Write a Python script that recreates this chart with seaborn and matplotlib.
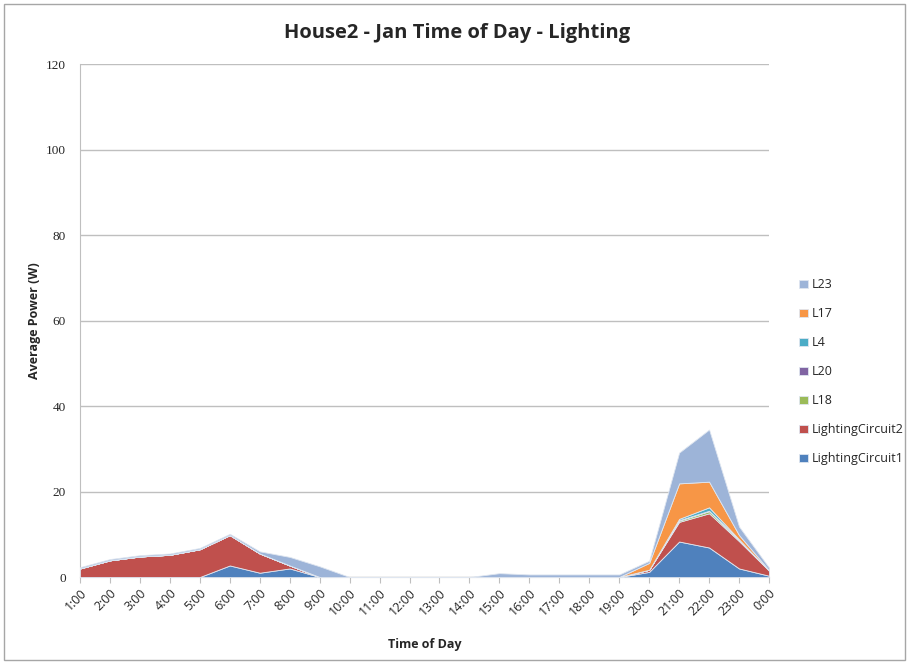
import numpy as np
import pandas as pd
import matplotlib
matplotlib.use("Agg")
import matplotlib.pyplot as plt
import seaborn as sns

hours = ["1:00","2:00","3:00","4:00","5:00","6:00","7:00","8:00","9:00","10:00","11:00","12:00",
         "13:00","14:00","15:00","16:00","17:00","18:00","19:00","20:00","21:00","22:00","23:00","0:00"]

lighting_circuit1 = [0,0,0,0,0,2.7,1.0,2.0,0,0,0,0,0,0,0,0,0,0,0,1.2,8.3,6.9,2.0,0.3]
lighting_circuit2 = [2.0,3.9,4.8,5.2,6.5,7.1,4.5,0.7,0,0,0,0,0,0,0,0,0,0,0,0.5,4.6,8.0,6.4,1.2]
l18 = [0,0,0,0,0,0,0,0,0,0,0,0,0,0,0,0,0,0,0,0,0.3,0.5,0.3,0]
l20 = [0,0,0,0,0,0,0,0,0,0,0,0,0,0,0,0,0,0,0,0,0.1,0.1,0,0]
l4 = [0,0,0,0,0,0,0,0,0,0,0,0,0,0,0,0,0,0,0,0,0.3,0.8,0.1,0]
l17 = [0,0,0,0,0,0,0,0,0,0,0,0,0,0,0,0,0,0,0,1.6,8.3,6.0,1.0,0.1]
l23 = [0.3,0.3,0.3,0.3,0.3,0.3,0.5,2.0,2.5,0,0,0,0,0,0.9,0.6,0.6,0.6,0.6,0.5,7.2,12.2,2.0,0.6]

series_names = ["LightingCircuit1","LightingCircuit2","L18","L20","L4","L17","L23"]
colors = ["#4F81BD","#C0504D","#9BBB59","#8064A2","#4BACC6","#F79646","#9DB4D8"]

df = pd.DataFrame({"hour": hours, "LightingCircuit1": lighting_circuit1, "LightingCircuit2": lighting_circuit2,
                   "L18": l18, "L20": l20, "L4": l4, "L17": l17, "L23": l23})

sns.set_style("white")
plt.rcParams["font.family"] = ["Open Sans", "DejaVu Sans"]

fig = plt.figure(figsize=(9.09, 6.64), dpi=100)
ax = fig.add_axes([80/909, 87/664, (769-80)/909, (577-64)/664])

x = np.arange(len(hours))
ax.stackplot(x, [df[n] for n in series_names], colors=colors, labels=series_names,
             edgecolor="#dfe6f0", linewidth=0.6, zorder=3)

ax.set_xlim(0, len(hours)-1)
ax.set_ylim(0, 120)
ax.set_yticks(range(0, 121, 20))
ax.set_xticks(x)
ax.set_xticklabels(hours, rotation=45, ha="right", rotation_mode="anchor", fontsize=9)
for lab in ax.get_yticklabels():
    lab.set_family(["Liberation Serif"])
    lab.set_fontsize(9.5)
ax.yaxis.grid(True, color="#bfbfbf", linewidth=1, zorder=0)
ax.xaxis.grid(False)
for s in ["top","right"]:
    ax.spines[s].set_visible(False)
ax.spines["left"].set_color("#bfbfbf")
ax.spines["bottom"].set_color("#bfbfbf")
ax.tick_params(axis="x", direction="out", length=4, color="#bfbfbf", bottom=True, pad=3)
ax.tick_params(axis="y", length=0, pad=10)

ax.set_xlabel("Time of Day", fontsize=9, fontweight="bold", labelpad=14)
ax.set_ylabel("Average Power (W)", fontsize=9, fontweight="bold", labelpad=4)
fig.text(457/909, 1-33/664, "House2 - Jan Time of Day - Lighting", ha="center", va="center",
         fontsize=14.5, fontweight="bold")

handles, labels = ax.get_legend_handles_labels()
leg = ax.legend(handles[::-1], labels[::-1], loc="center left", bbox_to_anchor=(1.027, 0.40),
                frameon=False, fontsize=9, handlelength=0.7, handleheight=0.7,
                labelspacing=1.28, handletextpad=0.3)

fig.patches.append(plt.Rectangle((4/909, 4/664), 901/909, 656/664, transform=fig.transFigure,
                                 fill=False, edgecolor="#a6a6a6", linewidth=1))

fig.savefig("out.png", dpi=100)
